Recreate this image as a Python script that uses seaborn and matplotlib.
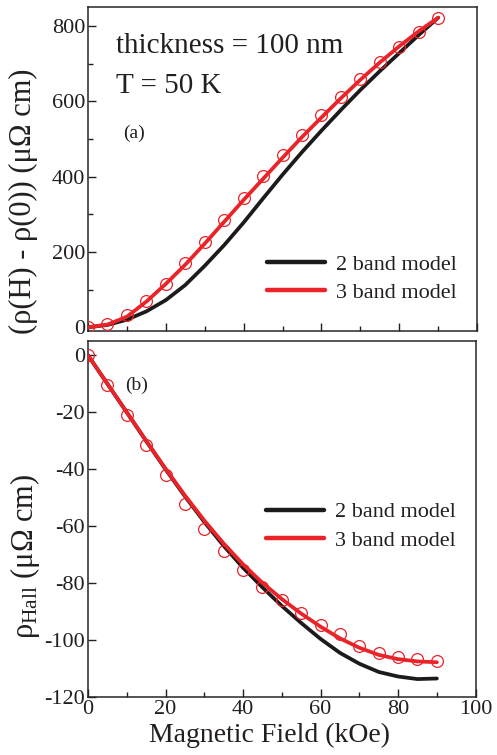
import matplotlib
matplotlib.use("Agg")
import matplotlib.pyplot as plt
from matplotlib.ticker import MultipleLocator
import seaborn as sns

# magnetic field (kOe)
field = [0, 5, 10, 15, 20, 25, 30, 35, 40, 45, 50, 55, 60, 65, 70, 75, 80, 85, 90]

# (a) magnetoresistance rho(H) - rho(0), uOhm cm
mr_data = [0, 8, 32, 69, 114, 170, 226, 284, 343, 401, 457, 510, 563, 611, 659, 704, 744, 784, 821]
mr_2band = [0, 6, 20, 42, 72, 112, 163, 218, 278, 342, 405, 465, 522, 577, 630, 680, 728, 776, 822]
mr_3band = [0, 7, 28, 68, 115, 166, 222, 280, 338, 394, 450, 505, 557, 608, 657, 703, 746, 786, 822]

# (b) Hall resistivity, uOhm cm
hall_data = [0, -10.6, -20.8, -31.4, -42.1, -52.1, -61.0, -68.9, -75.5, -81.4,
             -86.1, -90.6, -94.7, -97.9, -102.0, -104.6, -106.0, -106.5, -107.2]
hall_2band = [0, -10.0, -20.0, -30.1, -40.0, -49.5, -58.5, -66.9, -74.6, -81.5,
              -88.0, -94.0, -99.6, -104.5, -108.3, -111.2, -112.8, -113.7, -113.5]
hall_3band = [0, -10.0, -20.0, -30.0, -39.8, -49.2, -58.0, -66.1, -73.4, -79.9,
              -85.6, -90.7, -95.3, -99.4, -102.7, -105.2, -106.7, -107.5, -107.8]

RED = "#ea2329"
BLACK = "#1c1a1a"

sns.set_style("ticks")
plt.rcParams["font.family"] = ["Liberation Serif", "DejaVu Serif"]
plt.rcParams["mathtext.fontset"] = "custom"
plt.rcParams["mathtext.rm"] = "Liberation Serif"
plt.rcParams["mathtext.it"] = "Liberation Serif:italic"
plt.rcParams["axes.unicode_minus"] = False
plt.rcParams["axes.linewidth"] = 1.1
plt.rcParams["text.color"] = "#231f20"
plt.rcParams["axes.labelcolor"] = "#231f20"
plt.rcParams["xtick.color"] = "#231f20"
plt.rcParams["ytick.color"] = "#231f20"

fig = plt.figure(figsize=(4.97, 7.55), dpi=100)
ax1 = fig.add_axes([0.177, 0.5616, 0.783, 0.429])
ax2 = fig.add_axes([0.177, 0.0768, 0.780, 0.4715])


def draw_panel(ax, y_data, y2, y3):
    sns.lineplot(x=field, y=y2, color=BLACK, lw=2.7, label="2 band model", ax=ax, zorder=2)
    sns.lineplot(x=field, y=y3, color=RED, lw=2.7, label="3 band model", ax=ax, zorder=3)
    sns.lineplot(x=field, y=y_data, marker="o", linestyle="", markersize=8.5,
                 markerfacecolor="none", markeredgecolor=RED, markeredgewidth=0.9,
                 ax=ax, zorder=4)
    ax.set_xlim(0, 100)
    ax.xaxis.set_major_locator(MultipleLocator(20))
    ax.xaxis.set_minor_locator(MultipleLocator(10))
    ax.tick_params(which="both", direction="in", width=1.0, labelsize=16, pad=2)
    ax.tick_params(which="major", length=6)
    ax.tick_params(which="minor", length=3.5)
    for s in ax.spines.values():
        s.set_visible(True)
    leg = ax.legend(frameon=False, fontsize=16, handlelength=2.6, handletextpad=0.5,
                    labelspacing=0.35, loc="lower right")
    for line in leg.get_lines():
        line.set_linewidth(3.2)
    return leg


# panel (a)
draw_panel(ax1, mr_data, mr_2band, mr_3band)
ax1.set_ylim(-10, 850)
ax1.yaxis.set_major_locator(MultipleLocator(200))
ax1.yaxis.set_minor_locator(MultipleLocator(100))
ax1.tick_params(axis="x", labelbottom=False)
ax1.set_xlabel("")
ax1.set_ylabel("(ρ(H) - ρ(0)) (μΩ cm)", fontsize=22)
ax1.yaxis.set_label_coords(-0.128, 0.40)
ax1.legend_.set_bbox_to_anchor((1.0, 0.025), transform=ax1.transAxes)
ax1.text(0.072, 0.858, "thickness = 100 nm", transform=ax1.transAxes, fontsize=21)
ax1.text(0.072, 0.735, "T = 50 K", transform=ax1.transAxes, fontsize=21)
ax1.text(0.09, 0.596, "(a)", transform=ax1.transAxes, fontsize=14)

# panel (b)
draw_panel(ax2, hall_data, hall_2band, hall_3band)
ax2.set_ylim(-120, 5)
ax2.yaxis.set_major_locator(MultipleLocator(20))
ax2.set_xlabel("Magnetic Field (kOe)", fontsize=20)
ax2.xaxis.set_label_coords(0.468, -0.072)
ax2.set_ylabel("ρ$_{\\mathrm{Hall}}$ (μΩ cm)", fontsize=22)
ax2.yaxis.set_label_coords(-0.118, 0.395)
ax2.legend_.set_bbox_to_anchor((1.0, 0.355), transform=ax2.transAxes)
ax2.text(0.095, 0.862, "(b)", transform=ax2.transAxes, fontsize=14)

fig.savefig("out.png", dpi=100)
